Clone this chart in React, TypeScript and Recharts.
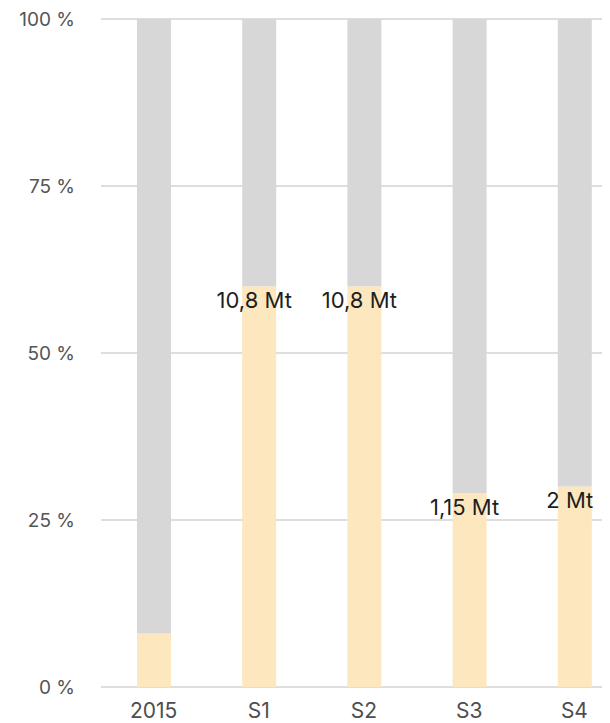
import React from "react";
import { BarChart, Bar, XAxis, YAxis, CartesianGrid, LabelList } from "recharts";

// Scenario categories and the share (%) covered by the highlighted segment
const categories = ["2015", "S1", "S2", "S3", "S4"];
const shareValues = [8, 60, 60, 29, 30];
const shareLabels = ["", "10,8 Mt", "10,8 Mt", "1,15 Mt", "2 Mt"];
const yTicks = [0, 25, 50, 75, 100];

const data = categories.map((name, i) => ({
  name,
  share: shareValues[i],
  rest: 100 - shareValues[i],
  label: shareLabels[i],
}));

const FONT = "Inter, 'Noto Sans', sans-serif";
const LABEL_SIZE = 22;

const renderLabel = (props: any) => {
  const { x, y, width, value } = props;
  if (!value) return null;
  return (
    <text
      x={Number(x) + Number(width) / 2 - 5}
      y={Number(y) + 6 + LABEL_SIZE * 0.72}
      textAnchor="middle"
      fontFamily={FONT}
      fontSize={LABEL_SIZE}
      fill="#1e1e1e"
    >
      {value}
    </text>
  );
};

export default function App() {
  return (
    <div style={{ width: 602, height: 715, overflow: "hidden" }}>
      <BarChart
        width={640}
        height={715}
        data={data}
        margin={{ top: 11, right: 21, bottom: 0, left: 0 }}
      >
        <CartesianGrid vertical={false} stroke="#dedede" strokeWidth={2} />
        <XAxis
          dataKey="name"
          axisLine={false}
          tickLine={false}
          tickSize={0}
          tickMargin={16}
          height={36}
          interval={0}
          tick={{ fill: "#4e4e4e", fontSize: 21, fontFamily: FONT }}
        />
        <YAxis
          width={93}
          domain={[0, 100]}
          ticks={yTicks}
          axisLine={false}
          tickLine={false}
          tickSize={0}
          tickMargin={26}
          tickFormatter={(v: number) => `${v} %`}
          tick={{ fill: "#555555", fontSize: 19, fontFamily: FONT }}
        />
        <Bar dataKey="share" stackId="a" fill="#fce7bf" barSize={34} isAnimationActive={false}>
          <LabelList dataKey="label" content={renderLabel} />
        </Bar>
        <Bar dataKey="rest" stackId="a" fill="#d7d7d7" barSize={34} isAnimationActive={false} />
      </BarChart>
    </div>
  );
}
